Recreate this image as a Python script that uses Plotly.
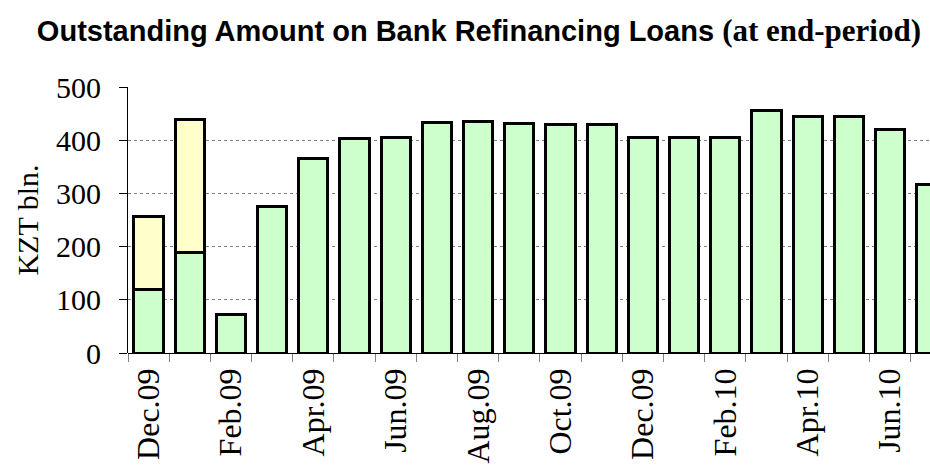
import plotly.graph_objects as go

# ---- data ----
months = ["Dec.09", "Jan.09", "Feb.09", "Mar.09", "Apr.09", "May.09", "Jun.09", "Jul.09",
          "Aug.09", "Sep.09", "Oct.09", "Nov.09", "Dec.09", "Jan.10", "Feb.10", "Mar.10",
          "Apr.10", "May.10", "Jun.10", "Jul.10"]
refinancing = [119, 188, 72, 275, 365, 404, 405, 433, 435, 432, 430, 430, 405, 405, 405, 455,
               444, 444, 420, 316]
additional = [137, 251, 0, 0, 0, 0, 0, 0, 0, 0, 0, 0, 0, 0, 0, 0, 0, 0, 0, 0]
y_ticks = [0, 100, 200, 300, 400, 500]

xpos = list(range(len(months)))
label_vals = xpos[::2]
label_text = [months[i] for i in label_vals]
boundaries = [i - 0.5 for i in xpos] + [xpos[-1] + 0.5]

serif = "Liberation Serif, Times New Roman, serif"

fig = go.Figure()
fig.add_trace(go.Bar(x=xpos, y=refinancing, marker=dict(color="#CCFFCC", line=dict(color="black", width=3)),
                     hoverinfo="y", showlegend=False))
fig.add_trace(go.Bar(x=xpos, y=additional, marker=dict(color="#FFFFCC", line=dict(color="black", width=3)),
                     hoverinfo="y", showlegend=False))

fig.update_layout(
    width=930, height=465,
    margin=dict(l=128, r=0, t=87, b=112),
    barmode="stack", bargap=0.29,
    plot_bgcolor="white", paper_bgcolor="white",
    title=dict(
        text="<b>Outstanding Amount on Bank Refinancing Loans</b> "
             "<span style='font-family:Liberation Serif, Times New Roman, serif;font-size:31px'><b>(at end-period)</b></span>",
        font=dict(family="Liberation Sans, Arial, sans-serif", size=29, color="black"),
        x=0.515, xanchor="center", xref="container",
        y=1 - 31 / 465, yanchor="middle", yref="container",
    ),
    xaxis=dict(
        range=[-0.5, 18.97],
        tickmode="array", tickvals=label_vals, ticktext=label_text,
        ticks="", tickangle=-90, ticklabelstandoff=8,
        tickfont=dict(family=serif, size=32, color="black"),
        showgrid=False, zeroline=False, showline=False,
        minor=dict(tickmode="array", tickvals=boundaries, ticks="outside", ticklen=8,
                   tickcolor="#808080", tickwidth=1, showgrid=False),
    ),
    yaxis=dict(
        range=[0, 500],
        tickmode="array", tickvals=y_ticks,
        ticks="outside", ticklen=8, tickcolor="black",
        tickfont=dict(family=serif, size=30, color="black"),
        ticklabelstandoff=12,
        showline=True, linecolor="black", linewidth=1,
        showgrid=True, gridcolor="#808080", griddash="dot", gridwidth=1,
        zeroline=True, zerolinecolor="black", zerolinewidth=1,
        title=dict(text="KZT bln.", font=dict(family=serif, size=30, color="black"), standoff=8),
    ),
)

fig.write_html("out.html")
